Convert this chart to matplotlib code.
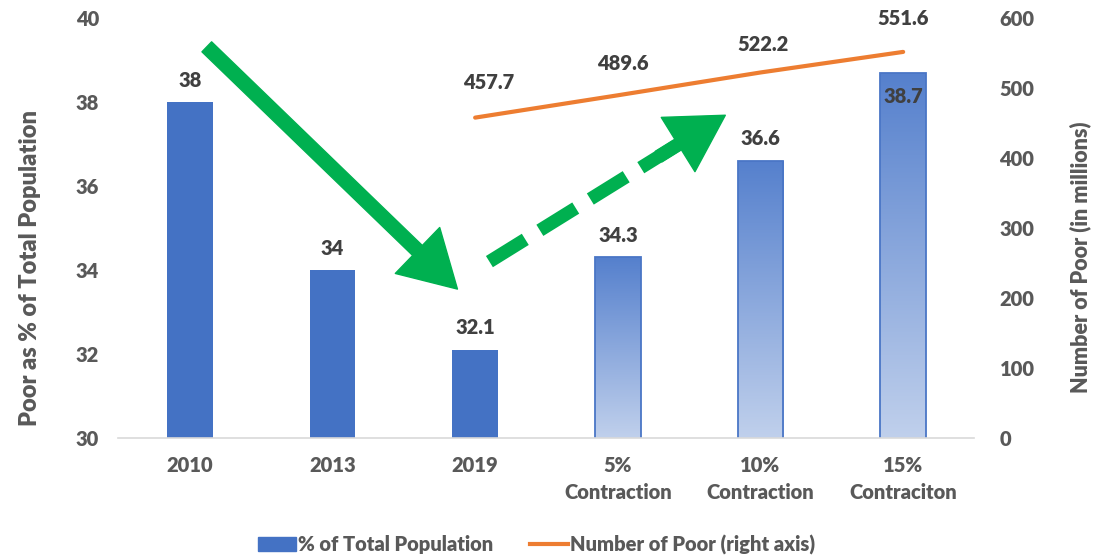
import matplotlib
matplotlib.use('Agg')
import matplotlib.pyplot as plt
import numpy as np
from matplotlib.patches import Patch, FancyArrowPatch
from matplotlib.lines import Line2D
from matplotlib.colors import LinearSegmentedColormap

# ---- data ----
categories = ["2010", "2013", "2019", "5%\nContraction", "10%\nContraction", "15%\nContraciton"]
pct_poor = [38, 34, 32.1, 34.3, 36.6, 38.7]
projected = [False, False, False, True, True, True]
line_categories = ["2019", "5%\nContraction", "10%\nContraction", "15%\nContraciton"]
num_poor = [457.7, 489.6, 522.2, 551.6]
left_ticks = [30, 32, 34, 36, 38, 40]
right_ticks = [0, 100, 200, 300, 400, 500, 600]

# ---- style ----
plt.rcParams['font.family'] = ['Lato', 'DejaVu Sans']
W = 'heavy'
BLUE = '#4472C4'
ORANGE = '#ED7D31'
GREEN = '#00B050'
TICK_C = '#595959'
LABEL_C = '#404040'
FS = 14.5

fig = plt.figure(figsize=(11.02, 5.56), dpi=100)
ax = fig.add_axes([0.1075, 0.2122, 0.7768, 0.7554])
x = np.arange(len(categories))

bars = ax.bar(x, pct_poor, width=0.32, color=BLUE, zorder=2)
ax.set_xlim(-0.5, len(categories) - 0.5)
ax.set_ylim(left_ticks[0], left_ticks[-1])

cmap = LinearSegmentedColormap.from_list('grad', ['#C0D0EC', '#5580CD'])
grad = np.linspace(0, 1, 256).reshape(-1, 1)
for b, proj in zip(bars, projected):
    if proj:
        b.set_facecolor('none')
        b.set_edgecolor('#4A76C6')
        b.set_linewidth(1.3)
        x0 = b.get_x()
        im = ax.imshow(grad, cmap=cmap, origin='lower', aspect='auto',
                       extent=[x0, x0 + b.get_width(), left_ticks[0], b.get_height()],
                       zorder=1.5)
        im.set_clip_path(b)
ax.set_xlim(-0.5, len(categories) - 0.5)
ax.set_ylim(left_ticks[0], left_ticks[-1])

# bar labels
bar_label_offsets = [(0, 9), (0, 9), (0, 9), (0, 9), (0, 9), (0, -17)]
for xi, v, off in zip(x, pct_poor, bar_label_offsets):
    ax.annotate(f"{v:g}", (xi, v), xytext=off, textcoords='offset points',
                ha='center', va='bottom' if off[1] > 0 else 'center',
                fontsize=FS, fontweight=W, color=LABEL_C, zorder=5)

for s in ['top', 'right', 'left']:
    ax.spines[s].set_visible(False)
ax.spines['bottom'].set_color('#D9D9D9')
ax.spines['bottom'].set_linewidth(1.2)
ax.set_xticks(x)
ax.set_xticklabels(categories, fontsize=FS, fontweight=W, color=TICK_C, linespacing=1.5)
ax.set_yticks(left_ticks)
ax.set_yticklabels([str(t) for t in left_ticks], fontsize=FS, fontweight=W, color=TICK_C)
ax.tick_params(axis='x', length=0, pad=13)
ax.tick_params(axis='y', length=0, pad=14)
ax.set_ylabel("Poor as % of Total Population", fontsize=17, fontweight=W, color=TICK_C)
ax.yaxis.set_label_coords(-0.091, 0.405)

# line on right axis
ax2 = ax.twinx()
xl = [categories.index(c) for c in line_categories]
ax2.plot(xl, num_poor, color=ORANGE, lw=3, solid_capstyle='round')
ax2.set_ylim(right_ticks[0], right_ticks[-1])
ax2.set_yticks(right_ticks)
ax2.set_yticklabels([str(t) for t in right_ticks], fontsize=FS, fontweight=W, color=TICK_C)
ax2.tick_params(axis='y', length=0, pad=18)
for s in ['top', 'right', 'left', 'bottom']:
    ax2.spines[s].set_visible(False)
ax2.set_ylabel("Number of Poor (in millions)", fontsize=15.5, fontweight=W, color=TICK_C)
ax2.yaxis.set_label_coords(1.111, 0.43)

line_label_offsets = [(10, 25), (4, 23), (2, 20), (0, 24)]
for xi, v, off in zip(xl, num_poor, line_label_offsets):
    ax2.annotate(f"{v:g}", (xi, v), xytext=off, textcoords='offset points',
                 ha='center', va='center', fontsize=FS, fontweight=W, color=LABEL_C)

# green arrows (annotations, in left-axis data coords)
solid = FancyArrowPatch((0.105, 39.36), (1.89, 33.5),
                        arrowstyle='simple,head_length=2.0,head_width=2.3,tail_width=0.5',
                        mutation_scale=20, color=GREEN, transform=ax.transData, zorder=6)
ax2.add_patch(solid)

start = np.array([2.10, 34.2])
tip = np.array([3.77, 37.72])
shaft_end = start + 0.80 * (tip - start)
ax2.plot([start[0], shaft_end[0]], [start[1], shaft_end[1]], transform=ax.transData,
         color=GREEN, lw=9.5, dashes=(3.2, 1.3), solid_capstyle='butt', dash_capstyle='butt', zorder=6)
head_start = start + 0.70 * (tip - start)
head = FancyArrowPatch(tuple(head_start), tuple(tip),
                       arrowstyle='simple,head_length=2.0,head_width=2.3,tail_width=0.45',
                       mutation_scale=20, color=GREEN, transform=ax.transData, zorder=6)
ax2.add_patch(head)

# legend
handles = [Patch(facecolor=BLUE, edgecolor=BLUE, label='% of Total Population'),
           Line2D([0], [0], color=ORANGE, lw=3, label='Number of Poor (right axis)')]
leg = fig.legend(handles=handles, loc='center', bbox_to_anchor=(0.487, 0.02), ncol=2,
                 frameon=False, fontsize=14.5, handlelength=1.9, handletextpad=0.1,
                 columnspacing=1.8)
for t in leg.get_texts():
    t.set_color(TICK_C)
    t.set_fontweight(W)

fig.savefig('out.png', dpi=100)
